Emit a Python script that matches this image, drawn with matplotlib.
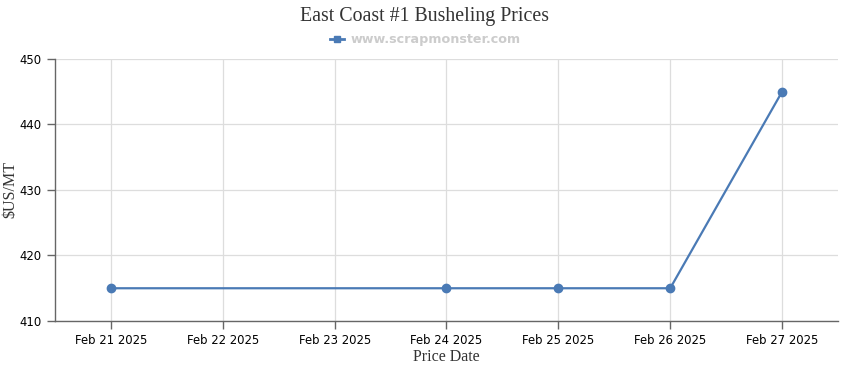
import matplotlib
matplotlib.use("Agg")
import matplotlib.pyplot as plt
import matplotlib.dates as mdates
from matplotlib.lines import Line2D
import datetime as dt

# data
price_dates = ["2025-02-21", "2025-02-24", "2025-02-25", "2025-02-26", "2025-02-27"]
prices = [415, 415, 415, 415, 445]
tick_dates = ["2025-02-21", "2025-02-22", "2025-02-23", "2025-02-24",
              "2025-02-25", "2025-02-26", "2025-02-27"]
y_ticks = [410, 420, 430, 440, 450]

line_color = "#4a7ab5"
serif = ["Liberation Serif", "DejaVu Serif"]

x = [dt.datetime.fromisoformat(d) for d in price_dates]
xt = [dt.datetime.fromisoformat(d) for d in tick_dates]

fig = plt.figure(figsize=(8.5, 3.7), dpi=100)
ax = fig.add_axes([55/850, 49/370, 783/850, 262/370])

ax.plot(x, prices, color=line_color, lw=1.6, marker="o", ms=6, zorder=3)

ax.set_ylim(410, 450)
ax.set_yticks(y_ticks)
ax.set_xticks(xt)
ax.xaxis.set_major_formatter(mdates.DateFormatter("%b %d %Y"))
ax.set_xlim(xt[0] - dt.timedelta(hours=12), xt[-1] + dt.timedelta(hours=12))

ax.grid(True, color="#dddddd", lw=0.9)
ax.set_axisbelow(True)
for s in ["top", "right"]:
    ax.spines[s].set_visible(False)
for s in ["left", "bottom"]:
    ax.spines[s].set_color("#666666")
    ax.spines[s].set_linewidth(1.0)
ax.tick_params(axis="both", colors="#666666", length=6, width=1,
               labelcolor="black", labelsize=8.4)

ax.set_xlabel("Price Date", family=serif, fontsize=11.5, color="#333333", labelpad=1)
ax.set_ylabel("$US/MT", family=serif, fontsize=11.5, color="#333333")
ax.yaxis.set_label_coords(-37/783, 0.5)

fig.text(0.5, 1 - 17/370, "East Coast #1 Busheling Prices", family=serif,
         fontsize=14.3, color="#333333", ha="center", va="center")

handle = Line2D([], [], color=line_color, lw=2, marker="s", ms=4.5)
leg = fig.legend([handle], ["www.scrapmonster.com"], loc="center",
                 bbox_to_anchor=(0.5, 1 - 40/370), frameon=False,
                 handlelength=1.1, handletextpad=0.5,
                 prop={"weight": "bold", "size": 9.2})
for t in leg.get_texts():
    t.set_color("#cccccc")

fig.savefig("out.png", dpi=100)
